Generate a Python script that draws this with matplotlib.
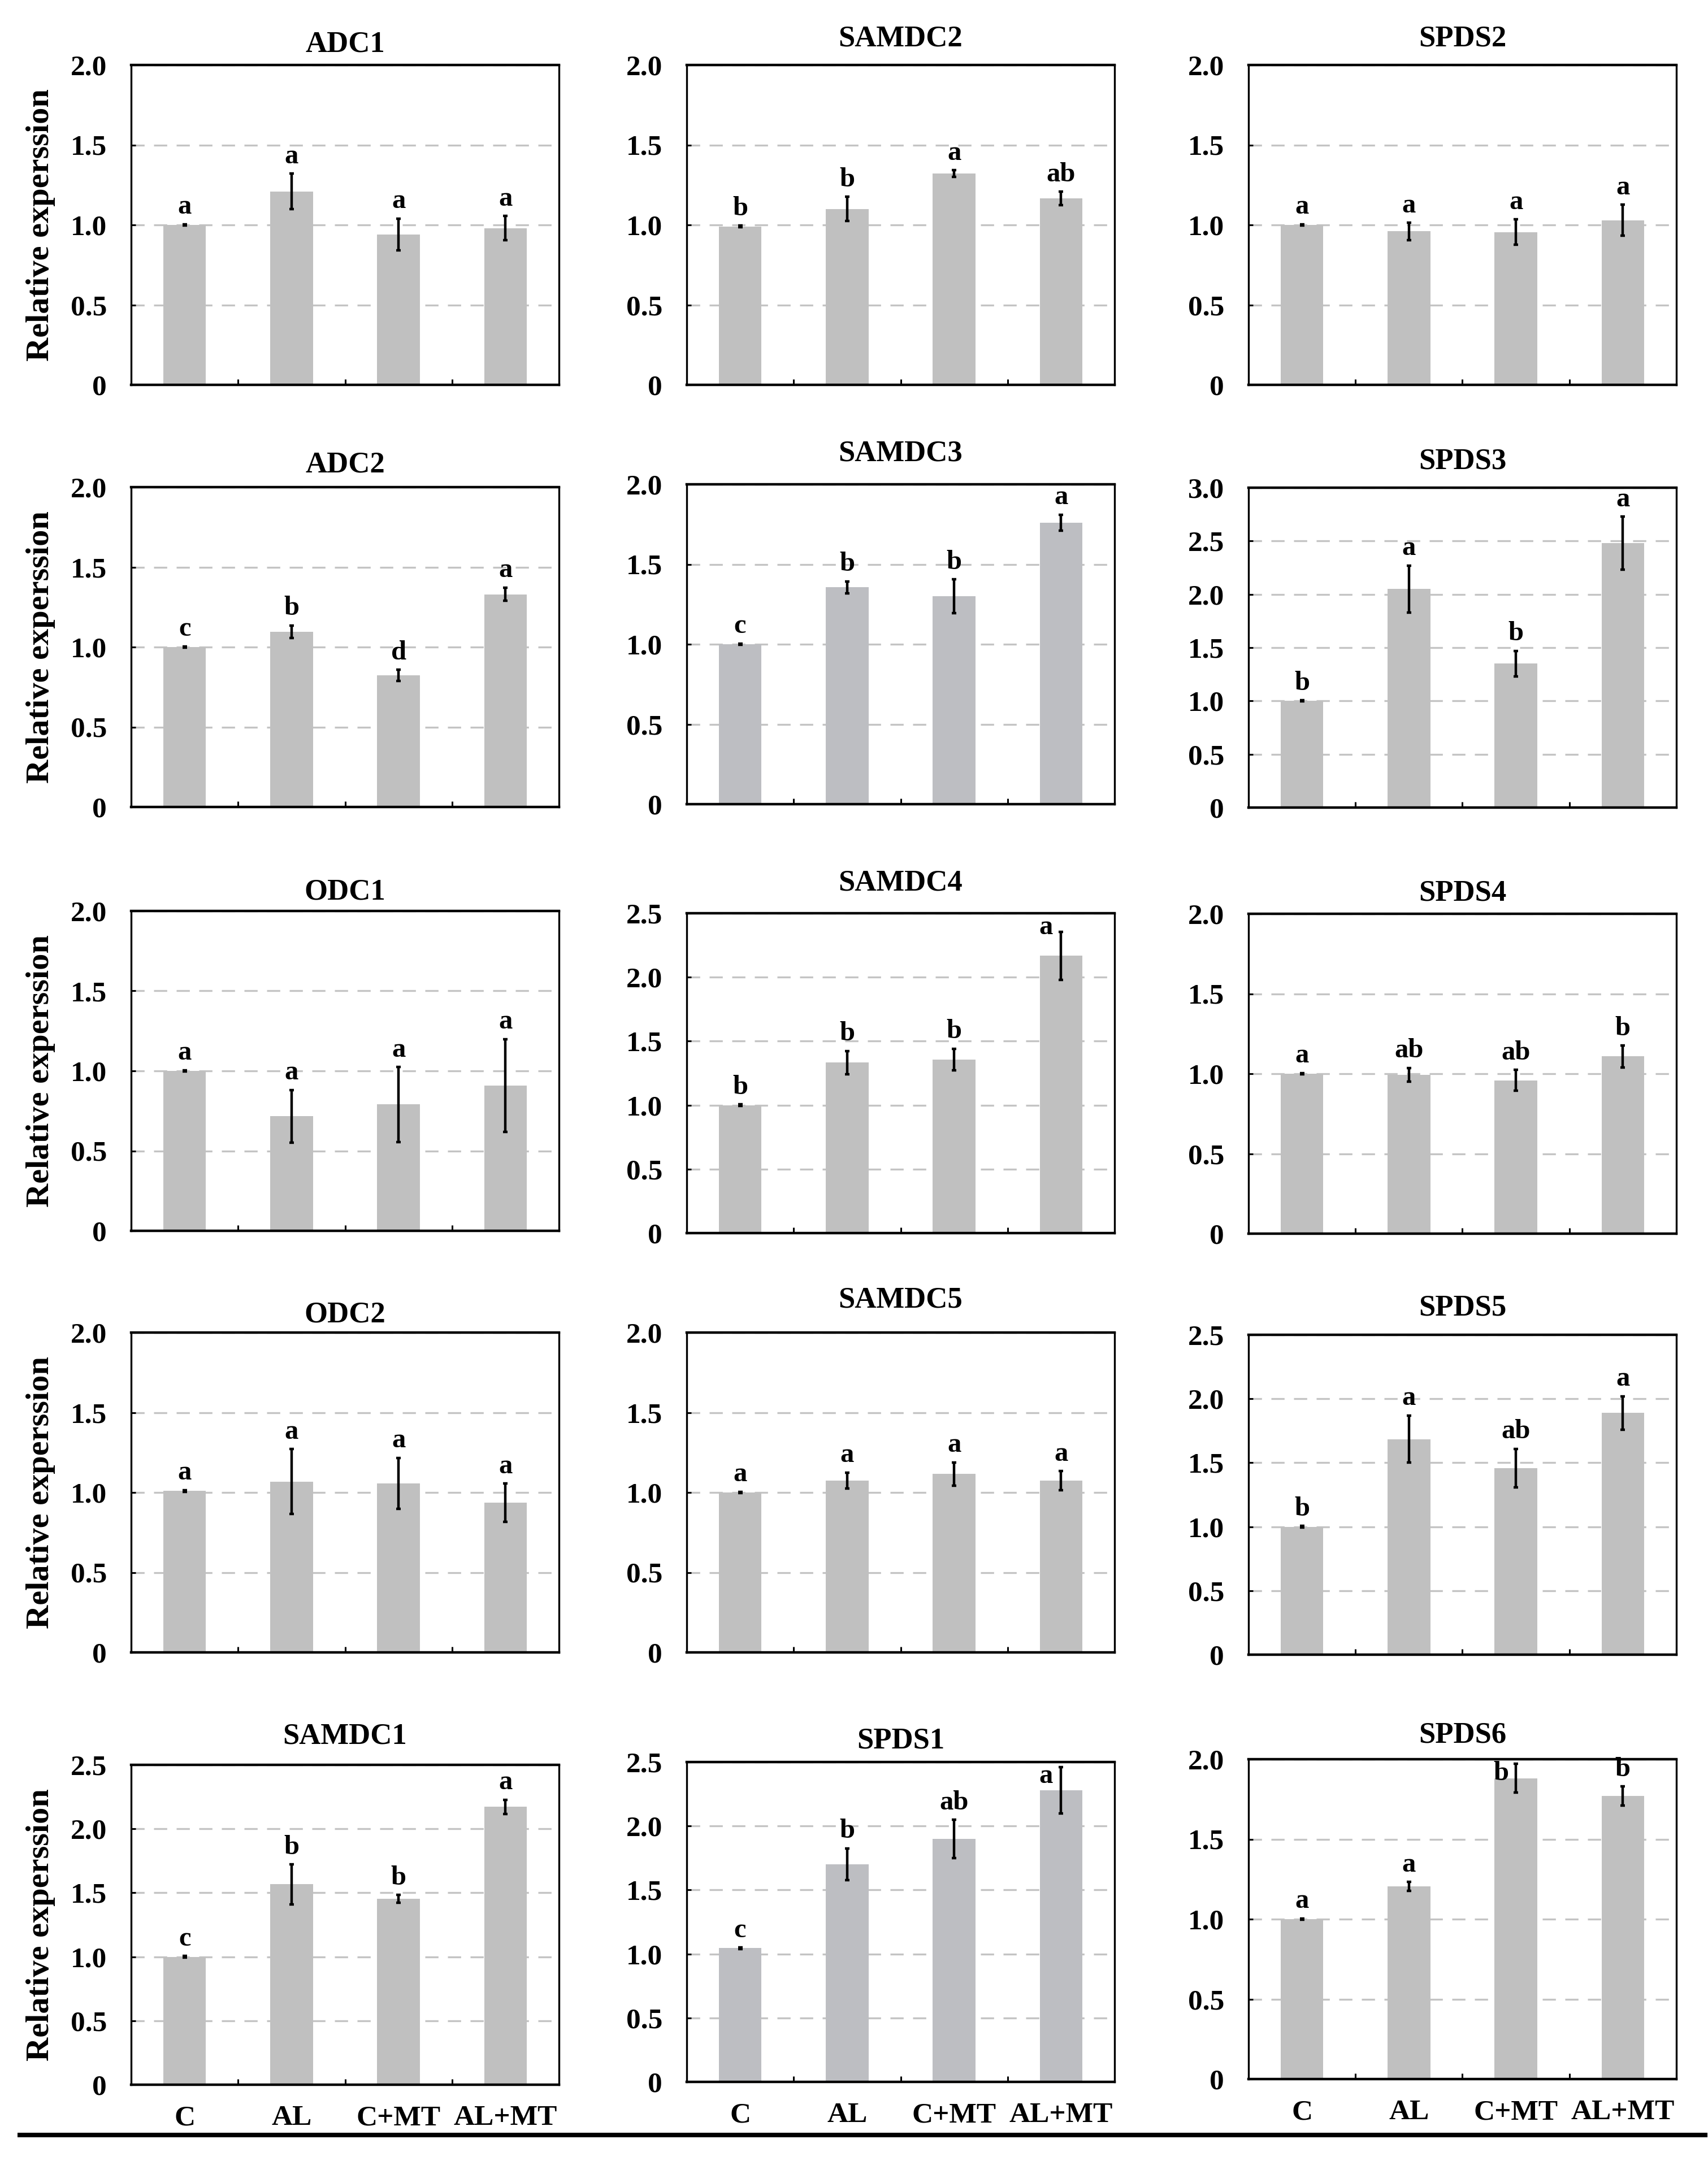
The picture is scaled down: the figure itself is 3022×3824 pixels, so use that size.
import numpy as np
import matplotlib
matplotlib.use("Agg")
import matplotlib.pyplot as plt
from matplotlib.lines import Line2D
from matplotlib.ticker import FuncFormatter

plt.rcParams['font.family'] = ['Liberation Serif', 'DejaVu Serif']
plt.rcParams['font.weight'] = 'bold'

treatments = ['C', 'AL', 'C+MT', 'AL+MT']

# panels, row by row, left to right
genes = ['ADC1', 'SAMDC2', 'SPDS2',
         'ADC2', 'SAMDC3', 'SPDS3',
         'ODC1', 'SAMDC4', 'SPDS4',
         'ODC2', 'SAMDC5', 'SPDS5',
         'SAMDC1', 'SPDS1', 'SPDS6']

means = [[1.00, 1.21, 0.94, 0.98], [0.99, 1.10, 1.32, 1.166], [1.00, 0.96, 0.955, 1.03],
         [1.00, 1.095, 0.824, 1.33], [1.00, 1.356, 1.30, 1.76], [1.00, 2.05, 1.35, 2.48],
         [1.00, 0.716, 0.79, 0.909], [1.00, 1.333, 1.357, 2.167], [1.00, 0.993, 0.958, 1.108],
         [1.01, 1.068, 1.057, 0.935], [1.00, 1.075, 1.115, 1.073], [1.00, 1.685, 1.459, 1.89],
         [1.00, 1.566, 1.454, 2.172], [1.045, 1.70, 1.90, 2.28], [1.00, 1.205, 1.88, 1.77]]

errors = [[0.005, 0.11, 0.10, 0.077], [0.005, 0.077, 0.021, 0.042], [0.005, 0.054, 0.08, 0.096],
          [0.005, 0.04, 0.035, 0.042], [0.005, 0.037, 0.105, 0.05], [0.005, 0.22, 0.12, 0.25],
          [0.005, 0.165, 0.234, 0.29], [0.005, 0.09, 0.085, 0.187], [0.005, 0.043, 0.065, 0.068],
          [0.005, 0.204, 0.16, 0.12], [0.005, 0.05, 0.074, 0.06], [0.005, 0.185, 0.15, 0.13],
          [0.005, 0.157, 0.03, 0.055], [0.005, 0.125, 0.15, 0.18], [0.005, 0.027, 0.09, 0.06]]

letters = [['a', 'a', 'a', 'a'], ['b', 'b', 'a', 'ab'], ['a', 'a', 'a', 'a'],
           ['c', 'b', 'd', 'a'], ['c', 'b', 'b', 'a'], ['b', 'a', 'b', 'a'],
           ['a', 'a', 'a', 'a'], ['b', 'b', 'b', 'a'], ['a', 'ab', 'ab', 'b'],
           ['a', 'a', 'a', 'a'], ['a', 'a', 'a', 'a'], ['b', 'a', 'ab', 'a'],
           ['c', 'b', 'b', 'a'], ['c', 'b', 'ab', 'a'], ['a', 'a', 'b', 'b']]

y_max = [2.0, 2.0, 2.0,
         2.0, 2.0, 3.0,
         2.0, 2.5, 2.0,
         2.0, 2.0, 2.5,
         2.5, 2.5, 2.0]

# layout in pixels of the final image
W, H, DPI = 3022, 3824, 100
col_left = [232, 1215, 2209]
ax_w, ax_h = 757, 566
tops = [115, 115, 115, 862, 857, 863, 1612, 1616, 1617,
        2358, 2358, 2362, 3123, 3118, 3113]
title_gap = [41, 51, 51, 44, 58, 51, 37, 57, 41, 36, 61, 51, 55, 41, 46]
bluish = {'SAMDC3', 'SPDS1'}


def px_rect(left, top):
    return [left / W, 1 - (top + ax_h) / H, ax_w / W, ax_h / H]


def tick_fmt(v, pos):
    return '0' if abs(v) < 1e-9 else f'{v:.1f}'


fig = plt.figure(figsize=(W / DPI, H / DPI), dpi=DPI)

for i, gene in enumerate(genes):
    row, col = divmod(i, 3)
    ax = fig.add_axes(px_rect(col_left[col], tops[i]))
    x = np.arange(1, 5)
    color = '#bdbec2' if gene in bluish else '#c0c0c0'
    ax.bar(x, means[i], width=0.4, color=color, zorder=2)
    ax.errorbar(x, means[i], yerr=errors[i], fmt='none', ecolor='black',
                elinewidth=3.2, capsize=3.2, capthick=3.2, zorder=3)

    ax.set_xlim(0.5, 4.5)
    ax.set_ylim(0, y_max[i])
    ax.set_yticks(np.arange(0, y_max[i] + 0.01, 0.5))
    ax.yaxis.set_major_formatter(FuncFormatter(tick_fmt))
    ax.yaxis.grid(True, color='#c4c4c4', linewidth=2.4, linestyle=(0, (7, 5)))
    ax.set_axisbelow(True)

    ax.set_xticks([1.5, 2.5, 3.5])
    ax.set_xticklabels([])
    ax.set_xticks(x, minor=True)
    if row == 4:
        ax.set_xticklabels(treatments, minor=True, fontsize=37, fontweight='bold')
    ax.tick_params(axis='x', which='major', direction='in', length=7, width=2.2)
    ax.tick_params(axis='x', which='minor', length=0, pad=26)
    ax.tick_params(axis='y', direction='in', length=6, width=2.2, pad=31, labelsize=37)
    for lab in ax.get_yticklabels():
        lab.set_fontweight('bold')

    for side in ['left', 'right']:
        ax.spines[side].set_linewidth(2.4)
    for side in ['top', 'bottom']:
        ax.spines[side].set_linewidth(3.2)

    ax.set_title(gene, fontsize=38, fontweight='bold', pad=(title_gap[i] - 17) * 0.72)

    # significance letters above the error bars
    for xi, m, e, lab in zip(x, means[i], errors[i], letters[i]):
        room_px = (y_max[i] - (m + e)) / y_max[i] * ax_h
        if room_px > 34:
            ax.annotate(lab, (xi, m + e), xytext=(0, 6), textcoords='offset points',
                        ha='center', va='bottom', fontsize=35, fontweight='bold')
        else:
            ax.annotate(lab, (xi, y_max[i]), xytext=(-19, -2), textcoords='offset points',
                        ha='center', va='top', fontsize=35, fontweight='bold')

    if col == 0:
        fig.text(72 / W, 1 - (tops[i] + ax_h / 2) / H, 'Relative experssion',
                 rotation=90, ha='center', va='center', fontsize=42, fontweight='bold')

fig.add_artist(Line2D([35 / W, 3017 / W], [1 - 3778 / H, 1 - 3778 / H],
                      color='black', linewidth=5.8))

fig.savefig('out.png', dpi=DPI)
